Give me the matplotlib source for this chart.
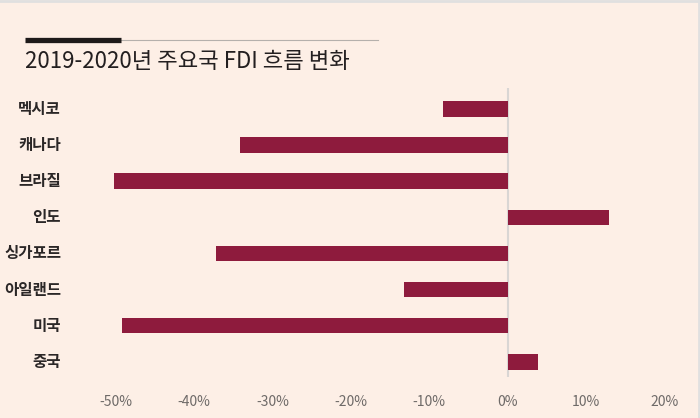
import matplotlib
matplotlib.use("Agg")
import matplotlib.pyplot as plt

# 2019-2020 FDI change (%)
countries = ["멕시코", "캐나다", "브라질", "인도", "싱가포르", "아일랜드", "미국", "중국"]
changes = [-8.2, -34.2, -50.3, 13.0, -37.2, -13.2, -49.2, 3.9]
ticks = [-50, -40, -30, -20, -10, 0, 10, 20]

bg = "#FDEFE6"
bar_color = "#8E1B3D"

plt.rcParams["font.family"] = ["Noto Sans CJK KR", "DejaVu Sans"]

fig = plt.figure(figsize=(7, 4.18), dpi=100, facecolor=bg)

# thin frame at top and right
fig.add_artist(plt.Line2D([0, 1], [0.997, 0.997], color="#E0E0E0", lw=2))
fig.add_artist(plt.Line2D([0.998, 0.998], [0, 1], color="#E0E0E0", lw=2))

# title rule
y_rule = 1 - 39.5 / 418
fig.add_artist(plt.Line2D([121 / 700, 378 / 700], [y_rule, y_rule], color="#B5B0AC", lw=0.8))
fig.add_artist(plt.Line2D([25 / 700, 121 / 700], [y_rule, y_rule], color="#1E1A1A", lw=3.8,
                          solid_capstyle="butt"))
fig.text(25 / 700, 1 - 62 / 418, "2019-2020년 주요국 FDI 흐름 변화", fontsize=16,
         fontweight="medium", color="#231F20", va="center", ha="left")

ax = fig.add_axes([92.5 / 700, 1 - 377 / 418, 579.5 / 700, 289 / 418])
ax.set_facecolor(bg)
pos = list(range(len(countries)))
ax.axvline(0, color="#D9D6D4", lw=1.5, zorder=1)
ax.barh(pos, changes, height=0.43, color=bar_color, zorder=2)
ax.set_xlim(-53, 21)
ax.set_ylim(7.42, -0.58)

for s in ax.spines.values():
    s.set_visible(False)
ax.set_xticks(ticks)
ax.set_xticklabels([f"{t}%" for t in ticks], color="#6E6A68", fontsize=10)
ax.tick_params(axis="x", length=0, pad=13)
ax.set_yticks([])

for p, name in zip(pos, countries):
    ax.annotate(name, xy=(0, p), xycoords=("figure fraction", "data"),
                xytext=(61, 0), textcoords="offset pixels",
                ha="right", va="center", fontsize=11.2, fontweight="bold", color="#2B2727")

fig.savefig("out.png", dpi=100, facecolor=bg)
